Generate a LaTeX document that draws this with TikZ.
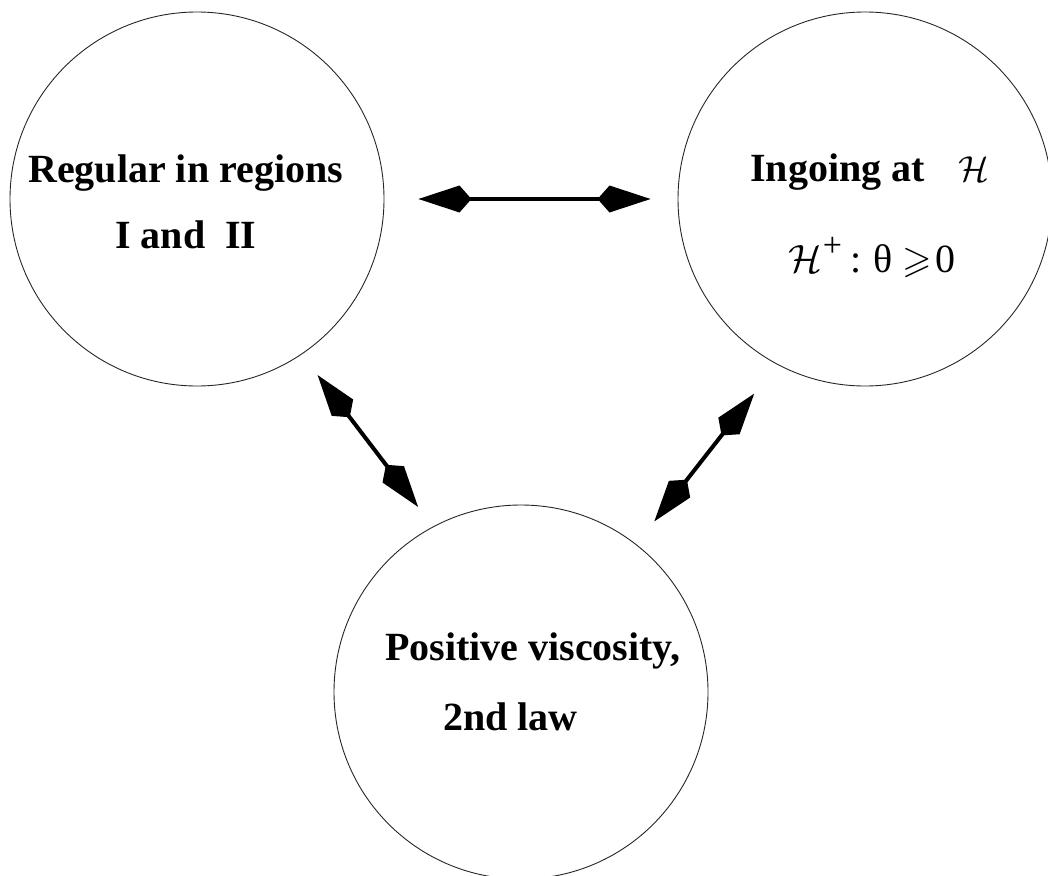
\documentclass[tikz,border=0pt]{standalone}
\usepackage{graphicx}
\usepackage{amssymb}
\usepackage{fontspec}
\setmainfont{Liberation Serif}
\usetikzlibrary{arrows.meta}
\newcommand{\bigcalH}[1]{{\fontsize{20.74}{24}\selectfont\scalebox{#1}{$\mathcal{H}$}}}
\tikzset{
  bubble/.style={circle, draw=black!85, line width=0.9pt, minimum size=374pt, inner sep=0pt},
  lbl/.style={anchor=base west, inner sep=0pt, font=\fontsize{40}{48}\selectfont},
  blbl/.style={lbl, font=\fontsize{40}{48}\selectfont\bfseries},
  kite/.tip={Kite[length=53pt,width=27pt,inset=12pt]},
  dbl/.style={line width=4pt, kite-kite}
}
\begin{document}
\begin{tikzpicture}[x=1pt,y=-1pt]
\useasboundingbox (0,0) rectangle (1048,875);
\node[bubble] (L) at (197,199) {};
\node[bubble] (R) at (865,199) {};
\node[bubble] (B) at (521,692) {};
\node[blbl] (l1) at (28,182) {Regular in regions};
\node[blbl] (l2) at (115,248) {I and\hspace{20pt}II};
\node[blbl] (r1) at (750,181) {Ingoing at};
\node[lbl] (r1h) at (958,181) {\bigcalH{1.74}};
\node[lbl, font=\fontsize{40}{44}\selectfont] (r2) at (788,272)
  {\bigcalH{1.9}\hspace{1pt}\raisebox{16pt}{\scalebox{0.85}{+}}\hspace{8pt}:\hspace{12pt}θ\hspace{10pt}{\fontsize{38}{40}\selectfont$\geqslant$}\hspace{4pt}0};
\node[blbl] (b1) at (385,660) {Positive viscosity,};
\node[blbl] (b2) at (443,730) {2nd law};
\draw[dbl, shorten <=34pt, shorten >=27pt] (L.east) -- (R.west);
\draw[dbl, shorten <=26pt, shorten >=24.6pt] (L.-56) -- (B.118.5);
\draw[dbl, shorten <=37pt, shorten >=29pt] (R.-118.8) -- (B.52.8);
\end{tikzpicture}
\end{document}
